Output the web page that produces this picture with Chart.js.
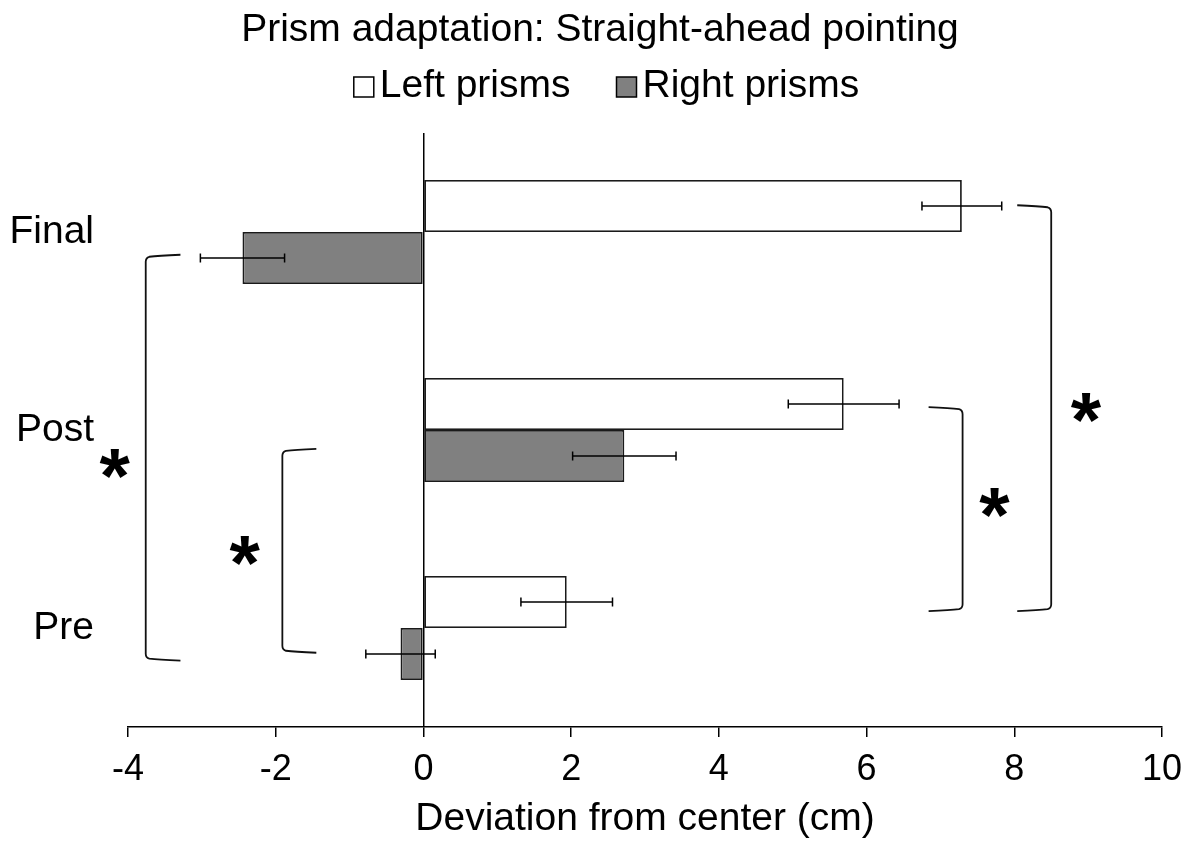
<!DOCTYPE html>
<html>
<head>
<meta charset="utf-8">
<title>Prism adaptation</title>
<script src="https://cdn.jsdelivr.net/npm/chart.js@4.4.0/dist/chart.umd.min.js"></script>
<style>
  html, body { margin: 0; padding: 0; background: #fff; overflow: hidden; }
  #wrap { position: absolute; left: 0; top: 0; width: 1191px; height: 843px; }
</style>
</head>
<body>
<div id="wrap"><canvas id="chart"></canvas></div>
<script>
// data (cm)
const phases = ['Final', 'Post', 'Pre'];
const leftPrisms = [7.29, 5.69, 1.94];
const leftErr = [0.54, 0.75, 0.62];
const rightPrisms = [-2.45, 2.72, -0.31];
const rightErr = [0.57, 0.70, 0.47];
const xTicks = [-4, -2, 0, 2, 4, 6, 8, 10];

// significance brackets: x / tip in cm, top / bottom / starY as category index
const brackets = [
  { x: -3.76, tip: -3.29, top: 0.12, bottom: 2.16, starX: -4.18, starY: 1.17 },
  { x: -1.91, tip: -1.45, top: 1.10, bottom: 2.12, starX: -2.42, starY: 1.61 },
  { x: 7.30, tip: 6.84, top: 0.89, bottom: 1.91, starX: 7.73, starY: 1.37 },
  { x: 8.50, tip: 8.04, top: -0.13, bottom: 1.91, starX: 8.97, starY: 0.89 }
];

const FONT = '"Liberation Sans", Arial, sans-serif';

// y labels are clipped to the scale box; let them use the left margin too
const labelRoom = {
  id: 'labelRoom',
  afterLayout(chart) { chart.scales.y.left = 0; }
};

const errorBars = {
  id: 'errorBars',
  afterDatasetsDraw(chart) {
    const { ctx, scales: { x } } = chart;
    ctx.save();
    ctx.strokeStyle = '#000';
    ctx.lineWidth = 1.5;
    chart.data.datasets.forEach((ds, i) => {
      chart.getDatasetMeta(i).data.forEach((bar, j) => {
        const v = ds.data[j], e = ds.errors[j];
        const x1 = x.getPixelForValue(v - e), x2 = x.getPixelForValue(v + e);
        const y = bar.y;
        ctx.beginPath();
        ctx.moveTo(x1, y); ctx.lineTo(x2, y);
        ctx.moveTo(x1, y - 4.5); ctx.lineTo(x1, y + 4.5);
        ctx.moveTo(x2, y - 4.5); ctx.lineTo(x2, y + 4.5);
        ctx.stroke();
      });
    });
    ctx.restore();
  }
};

const bracketMarks = {
  id: 'bracketMarks',
  afterDraw(chart) {
    const { ctx, scales: { x, y } } = chart;
    ctx.save();
    ctx.strokeStyle = '#111';
    ctx.lineWidth = 1.8;
    brackets.forEach(b => {
      const vx = x.getPixelForValue(b.x), tx = x.getPixelForValue(b.tip);
      const y1 = y.getPixelForValue(b.top), y2 = y.getPixelForValue(b.bottom);
      const d = tx > vx ? 1 : -1, r = 6;
      ctx.beginPath();
      ctx.moveTo(tx, y1 - 1);
      ctx.quadraticCurveTo(vx + d * r * 2, y1, vx + d * r * 0.6, y1 + 1);
      ctx.quadraticCurveTo(vx, y1 + 2, vx, y1 + r);
      ctx.lineTo(vx, y2 - r);
      ctx.quadraticCurveTo(vx, y2 - 2, vx + d * r * 0.6, y2 - 1);
      ctx.quadraticCurveTo(vx + d * r * 2, y2, tx, y2 + 1);
      ctx.stroke();

      // asterisk, centred on its glyph box
      ctx.font = 'bold 78px ' + FONT;
      ctx.fillStyle = '#000';
      ctx.textAlign = 'center';
      ctx.textBaseline = 'alphabetic';
      const m = ctx.measureText('*');
      const sx = x.getPixelForValue(b.starX), sy = y.getPixelForValue(b.starY);
      ctx.fillText('*', sx, sy + (m.actualBoundingBoxAscent - m.actualBoundingBoxDescent) / 2);
    });
    ctx.restore();
  }
};

const topLegend = {
  id: 'topLegend',
  afterDraw(chart) {
    const ctx = chart.ctx;
    const boxW = 20, boxH = 20, gap = 6, spacing = 46, cy = 87;
    ctx.save();
    ctx.font = '39px ' + FONT;
    const items = chart.data.datasets.map(ds => ({
      text: ds.label, fill: ds.backgroundColor, w: ctx.measureText(ds.label).width
    }));
    const total = items.reduce((s, it) => s + boxW + gap + it.w, 0) + spacing * (items.length - 1);
    let lx = chart.width / 2 + 11 - total / 2;
    items.forEach(it => {
      ctx.fillStyle = it.fill;
      ctx.fillRect(lx, cy - boxH / 2, boxW, boxH);
      ctx.strokeStyle = '#000';
      ctx.lineWidth = 1.5;
      ctx.strokeRect(lx, cy - boxH / 2, boxW, boxH);
      ctx.fillStyle = '#000';
      ctx.textAlign = 'left';
      ctx.textBaseline = 'middle';
      ctx.fillText(it.text, lx + boxW + gap, cy - 1);
      lx += boxW + gap + it.w + spacing;
    });
    ctx.restore();
  }
};

new Chart(document.getElementById('chart'), {
  type: 'bar',
  data: {
    labels: phases,
    datasets: [
      {
        label: 'Left prisms',
        data: leftPrisms,
        errors: leftErr,
        backgroundColor: '#ffffff',
        borderColor: '#1a1a1a',
        borderWidth: 1.8,
        borderSkipped: false
      },
      {
        label: 'Right prisms',
        data: rightPrisms,
        errors: rightErr,
        backgroundColor: '#808080',
        borderColor: '#1a1a1a',
        borderWidth: 1.8,
        borderSkipped: false
      }
    ]
  },
  options: {
    indexAxis: 'y',
    responsive: true,
    maintainAspectRatio: false,
    animation: false,
    categoryPercentage: 0.525,
    barPercentage: 1,
    layout: { padding: { left: 38, right: 29, top: 0, bottom: 0 } },
    plugins: {
      legend: { display: false },
      tooltip: { enabled: false },
      title: {
        display: true,
        text: 'Prism adaptation: Straight-ahead pointing',
        color: '#000',
        font: { family: FONT, size: 39, weight: 'normal' },
        padding: { top: 6.6, bottom: 79.6 }
      }
    },
    scales: {
      x: {
        type: 'linear',
        min: -4,
        max: 10,
        afterBuildTicks: scale => { scale.ticks = xTicks.map(v => ({ value: v })); },
        afterFit: scale => {
          scale.paddingLeft = 0;
          scale.paddingRight = 0;
          scale.height = 116;
        },
        ticks: {
          color: '#000',
          padding: 11.4,
          font: { family: FONT, size: 36 }
        },
        grid: {
          display: true,
          drawOnChartArea: true,
          color: ctx => (ctx.tick && ctx.tick.value === 0 ? '#000' : 'rgba(0,0,0,0)'),
          tickColor: '#000',
          tickLength: 10,
          lineWidth: 1.5
        },
        border: { display: true, color: '#000', width: 1.5 },
        title: {
          display: true,
          text: 'Deviation from center (cm)',
          color: '#000',
          font: { family: FONT, size: 39 },
          padding: { top: 0, bottom: 0 }
        }
      },
      y: {
        type: 'category',
        afterFit: scale => { scale.width = 90; },
        ticks: {
          color: '#000',
          padding: 34,
          font: { family: FONT, size: 39 }
        },
        grid: { display: false, drawTicks: false },
        border: { display: false }
      }
    }
  },
  plugins: [labelRoom, errorBars, bracketMarks, topLegend]
});
</script>
</body>
</html>
